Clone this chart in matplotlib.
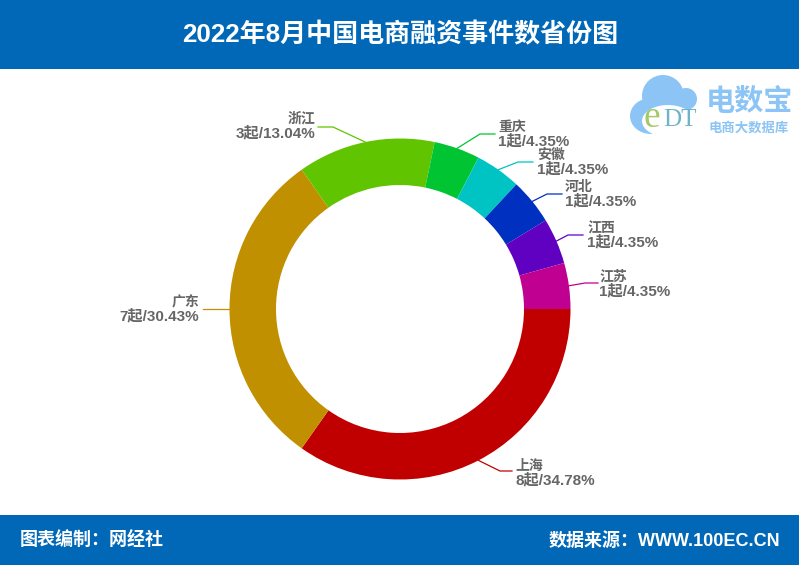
import numpy as np
import matplotlib
matplotlib.use("Agg")
import matplotlib.pyplot as plt
from matplotlib.patches import Rectangle, Circle, Ellipse

plt.rcParams['font.family'] = ['Liberation Sans', 'Noto Sans CJK SC', 'DejaVu Sans']

title = "2022年8月中国电商融资事件数省份图"
footer_left = "图表编制：网经社"
footer_right = "数据来源：WWW.100EC.CN"
provinces = ["上海", "广东", "浙江", "重庆", "安徽", "河北", "江西", "江苏"]
counts = [8, 7, 3, 1, 1, 1, 1, 1]
percents = ["34.78%", "30.43%", "13.04%", "4.35%", "4.35%", "4.35%", "4.35%", "4.35%"]
colors = ["#c00000", "#c09000", "#60c400", "#00c432", "#00c4c4", "#0030c0", "#6000c0", "#c00090"]
elbows = [(500, 471), (203, 309), (333, 127), (480, 134), (518, 162), (547, 194), (568, 235), (585, 283)]
ends = [(512, 471), (203, 309), (318, 127), (495, 134), (533, 162), (562, 194), (583, 235), (598, 283)]
aligns = ["left", "right", "right", "left", "left", "left", "left", "left"]
text_xy = [(515, 473), (199, 309), (315, 126), (498, 134), (537, 162), (565, 194), (587, 235), (599, 284)]

W, H = 799, 565
BLUE = "#0068b7"
fig = plt.figure(figsize=(W / 100, H / 100), dpi=100)
ax = fig.add_axes([0, 0, 1, 1])
ax.set_xlim(0, W)
ax.set_ylim(0, H)
ax.set_aspect("equal")
ax.axis("off")
Y = lambda py: H - py

ax.add_patch(Rectangle((0, Y(69)), W, 69, fc=BLUE, ec="none"))
ax.add_patch(Rectangle((0, 0), W, 50, fc=BLUE, ec="none"))
ax.text(400, Y(35), title, color="white", fontsize=18.75, fontweight="bold", ha="center", va="center")
ax.text(20, Y(541), footer_left, color="white", fontsize=13, fontweight="bold", ha="left", va="center")
ax.text(780, Y(541), footer_right, color="white", fontsize=13, fontweight="bold", ha="right", va="center")

cx, cy, R, width = 400, Y(309), 170.5, 46.5
ax.pie(counts, colors=colors, center=(cx, cy), radius=R, startangle=0, counterclock=False,
       wedgeprops=dict(width=width, linewidth=0), frame=False)
ax.set_xlim(0, W)
ax.set_ylim(0, H)

total = sum(counts)
acc = 0
for i, name in enumerate(provinces):
    mid = -(acc + counts[i] / 2) / total * 2 * np.pi
    acc += counts[i]
    sx, sy = cx + R * np.cos(mid), cy + R * np.sin(mid)
    ex, ey = elbows[i]
    fx, fy = ends[i]
    ax.plot([sx, ex, fx], [sy, Y(ey), Y(fy)], color=colors[i], lw=0.9, solid_joinstyle="round")
    tx, ty = text_xy[i]
    ax.text(tx, Y(ty - 7), name, color="#666666", fontsize=10, fontweight="bold",
            ha=aligns[i], va="center")
    ax.text(tx, Y(ty + 7), f"{counts[i]}起/{percents[i]}", color="#666666", fontsize=11,
            fontweight="bold", ha=aligns[i], va="center")

# logo
LB = "#8cc5f5"
ax.add_patch(Circle((663, Y(96)), 21, fc=LB, ec="none"))
ax.add_patch(Circle((686, Y(99)), 11, fc=LB, ec="none"))
ax.add_patch(Ellipse((651, Y(116)), 42, 36, fc=LB, ec="none"))
ax.add_patch(Ellipse((668, Y(121)), 52, 32, fc="white", ec="none"))
ax.text(652, Y(118), "e", color="#a5c96a", fontsize=27, fontfamily="Liberation Serif", ha="center", va="center")
ax.text(680, Y(120), "DT", color="#6db4c8", fontsize=18, fontfamily="Liberation Serif", ha="center", va="center")
ax.text(749, Y(102), "电数宝", color="#8cc5f5", fontsize=21, fontweight="bold", ha="center", va="center")
ax.text(749, Y(128), "电商大数据库", color="#8cc5f5", fontsize=9.6, fontweight="bold", ha="center", va="center")

fig.savefig("out.png", dpi=100)
